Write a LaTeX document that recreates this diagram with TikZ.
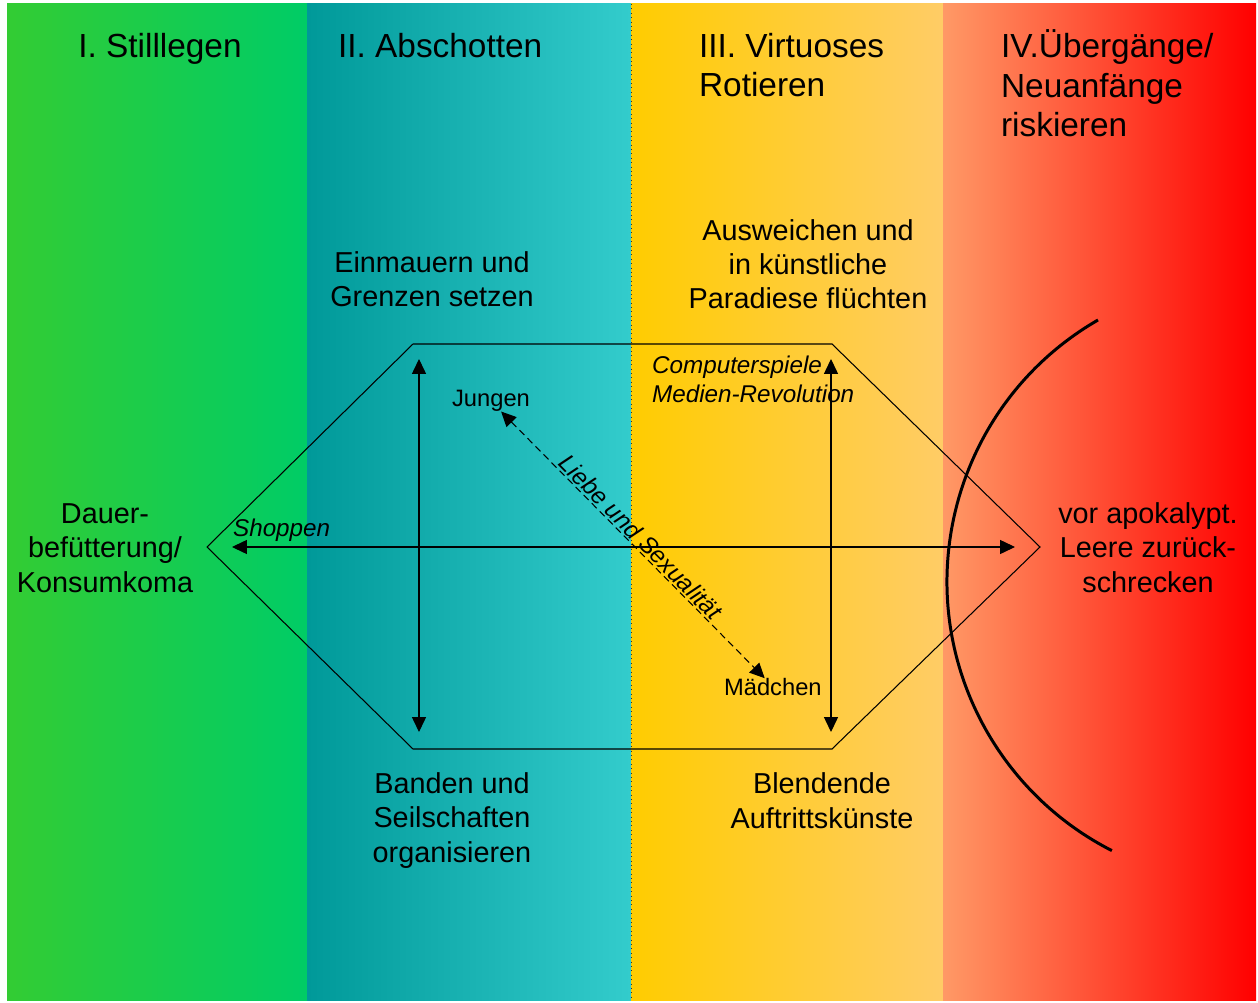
\documentclass[tikz,border=0pt]{standalone}
\usepackage{fontspec}
\setmainfont{Liberation Sans}
\usetikzlibrary{arrows.meta}

\definecolor{stillL}{HTML}{33CC33}
\definecolor{stillR}{HTML}{00CC66}
\definecolor{abschL}{HTML}{009999}
\definecolor{abschR}{HTML}{33CCCC}
\definecolor{rotL}{HTML}{FFCC00}
\definecolor{rotR}{HTML}{FFCC66}
\definecolor{uebL}{HTML}{FF9966}
\definecolor{uebM}{HTML}{FF6A4A}
\definecolor{uebR}{HTML}{FF0000}

\begin{document}
\begin{tikzpicture}[x=0.02cm, y=-0.02cm,
  every node/.style={inner sep=1pt},
  title/.style={font=\fontsize{19}{22.5}\selectfont, align=left},
  phase/.style={font=\fontsize{16.4}{19.5}\selectfont, align=center},
  small/.style={font=\fontsize{13.5}{16}\selectfont},
  media/.style={font=\fontsize{13.8}{17}\selectfont\itshape, align=left},
  arr/.style={line width=0.6pt, {Triangle[length=8.5pt,width=8pt]}-{Triangle[length=8.5pt,width=8pt]}}]

			\useasboundingbox[fill=white] (0,0) rectangle (1258,1003);
			
			\shade[left color=stillL, right color=stillR] (7,4) rectangle (307,1000);
			\shade[left color=abschL, right color=abschR] (307,4) rectangle (631,1000);
			\shade[left color=rotL, right color=rotR] (631,4) rectangle (943,1000);
			\shade[left color=uebL, middle color=uebM, right color=uebR] (943,4) rectangle (1256,1000);
			\draw[dotted, line width=0.5pt, black!80] (631,4) -- (631,1000);
			
			\node[title, anchor=base] (t1) at (160,58){I. Stilllegen};
			\node[title, anchor=base west] (t2) at (336,58){II. Abschotten};
			\node[title, anchor=base west] (t3) at (697,97){III. Virtuoses\\Rotieren};
			\node[title, anchor=base west] (t4) at (999,137){IV.Übergänge/\\Neuanfänge\\riskieren};
			
			\node[phase, anchor=base] (ein) at (432,307){Einmauern und\\Grenzen setzen};
			\node[phase, anchor=base] (aus) at (808,309){Ausweichen und\\in künstliche\\Paradiese flüchten};
			\node[phase, anchor=base] (dau) at (105,592){Dauer-\\befütterung/\\Konsumkoma};
			\node[phase, anchor=base] (vor) at (1148,592){vor apokalypt.\\Leere zurück-\\schrecken};
			\node[phase, anchor=base] (ban) at (452,862){Banden und\\Seilschaften\\organisieren};
			\node[phase, anchor=base] (ble) at (822,828){Blendende\\Auftrittskünste};
			
			\coordinate (hl) at (207,547);
			\coordinate (htl) at (413,344);
			\coordinate (htr) at (832,344);
			\coordinate (hr) at (1040,547);
			\coordinate (hbr) at (832,749);
			\coordinate (hbl) at (413,749);
			\draw[line width=0.6pt] (hl) -- (htl) -- (htr) -- (hr) -- (hbr) -- (hbl) -- cycle;
			
			\coordinate (shopL) at (232,547);
			\coordinate (shopR) at (1015,547);
			\coordinate (abT) at (419,359);
			\coordinate (abB) at (419,732);
			\coordinate (rotT) at (831,359);
			\coordinate (rotB) at (831,732);
			\path[arr] (shopL) edge (shopR);
			\path[arr] (abT) edge (abB);
			\path[arr] (rotT) edge (rotB);
			
			\node[media, anchor=base west] (shop) at (231,537){Shoppen};
			\node[media, anchor=base west] (comp) at (650,403){Computerspiele\\Medien-Revolution};
			
			\node[small, anchor=base west] (jung) at (450,407){Jungen};
			\node[small, anchor=base west] (maed) at (722,695){Mädchen};
			\draw[arr, dash pattern=on 4pt off 2.5pt, shorten <=-2pt, shorten >=-2pt] (jung) -- (maed) node[midway, sloped, above, media]{Liebe und Sexualität};
			
			\coordinate (arcT) at (1098,320);
			\draw[line width=1.7pt] (arcT) arc[start angle=240, end angle=117, radius=302];
			\end{tikzpicture}
\end{document}
